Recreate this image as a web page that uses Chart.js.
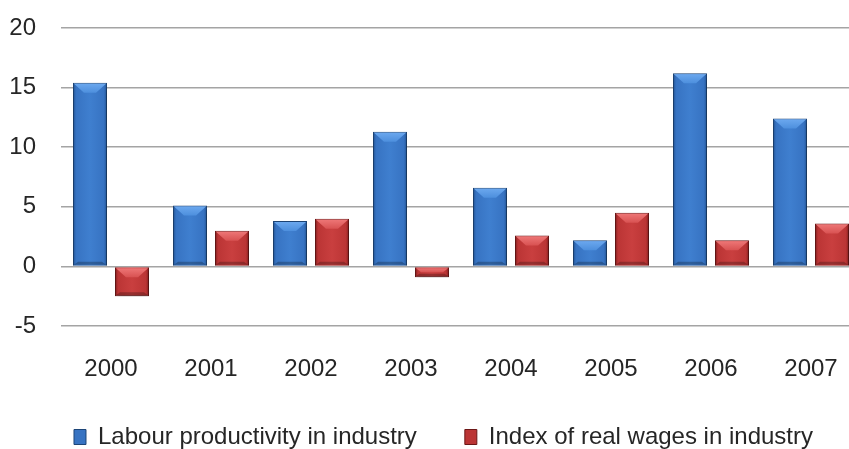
<!DOCTYPE html>
<html>
<head>
<meta charset="utf-8">
<script src="https://cdn.jsdelivr.net/npm/chart.js@4/dist/chart.umd.min.js"></script>
<style>
  html, body { margin: 0; padding: 0; background: #fff; overflow: hidden; }
  #wrap { width: 885px; height: 449px; }
</style>
</head>
<body>
<div id="wrap"><canvas id="chart" width="885" height="449"></canvas></div>
<script>
const years = ['2000', '2001', '2002', '2003', '2004', '2005', '2006', '2007'];
const productivity = [15.4, 5.1, 3.8, 11.3, 6.6, 2.2, 16.2, 12.4];
const realWages = [-2.5, 3.0, 4.0, -0.9, 2.6, 4.5, 2.2, 3.6];
const yTicks = [-5, 0, 5, 10, 15, 20];

const FONT = "'Liberation Sans', Arial, sans-serif";
const CAT_PCT = 0.84, BAR_PCT = 0.81;

// colours: edge / centre / bevel highlight / border
const palette = [
    { edge: '#21518f', mid: '#3773c2', light: '#3f7fcf', bevel: '#6eaaf0', bevel2: '#4d8fdd', border: '#1d4577' },
    { edge: '#7e1d1d', mid: '#bb3535', light: '#c93f3f', bevel: '#f07a7a', bevel2: '#d85252', border: '#6c1717' }
];

// horizontal gradient per bar, located from the x scale
function barFill(ctx) {
    const chart = ctx.chart;
    const p = palette[ctx.datasetIndex];
    const xs = chart.scales.x;
    if (!chart.chartArea || !xs || ctx.dataIndex === undefined) return p.mid;
    const cw = xs.width / years.length;
    const slot = cw * CAT_PCT / 2;
    const bw = slot * BAR_PCT;
    const cx = xs.getPixelForValue(ctx.dataIndex) + (ctx.datasetIndex === 0 ? -slot / 2 : slot / 2);
    const g = chart.ctx.createLinearGradient(cx - bw / 2, 0, cx + bw / 2, 0);
    g.addColorStop(0, p.edge);
    g.addColorStop(0.09, p.mid);
    g.addColorStop(0.5, p.light);
    g.addColorStop(0.91, p.mid);
    g.addColorStop(1, p.edge);
    return g;
}

// drop shadow under the bars and a bevel at the top and bottom of each bar
const bevel = {
    id: 'bevel',
    afterLayout(chart) {
        // nudge the legend a little to the right, as in the original
        chart.legend.left += 8;
        chart.legend.right += 8;
    },
    beforeDatasetsDraw(chart) {
        const c = chart.ctx;
        c.save();
        c.shadowColor = 'rgba(0,0,0,0.35)';
        c.shadowBlur = 6;
        c.shadowOffsetX = 1;
        c.shadowOffsetY = 4;
    },
    afterDatasetsDraw(chart) {
        const c = chart.ctx;
        c.restore();
        c.save();
        chart.data.datasets.forEach((ds, di) => {
            const p = palette[di];
            chart.getDatasetMeta(di).data.forEach(bar => {
                const top = Math.min(bar.y, bar.base);
                const bot = Math.max(bar.y, bar.base);
                const l = bar.x - bar.width / 2 + 1, r = bar.x + bar.width / 2 - 1;
                const h = Math.min(10, (bot - top) / 2);
                const g = c.createLinearGradient(0, top, 0, top + h);
                g.addColorStop(0, p.bevel);
                g.addColorStop(1, p.bevel2);
                c.fillStyle = g;
                c.beginPath();
                c.moveTo(l, top + 1);
                c.lineTo(r, top + 1);
                c.lineTo(r - h, top + h);
                c.lineTo(l + h, top + h);
                c.closePath();
                c.fill();
                const hb = Math.min(4, (bot - top) / 3);
                c.fillStyle = 'rgba(0,0,0,0.25)';
                c.beginPath();
                c.moveTo(l, bot - 1);
                c.lineTo(r, bot - 1);
                c.lineTo(r - hb, bot - hb);
                c.lineTo(l + hb, bot - hb);
                c.closePath();
                c.fill();
            });
        });
        c.restore();
    }
};

new Chart(document.getElementById('chart').getContext('2d'), {
    type: 'bar',
    data: {
        labels: years,
        datasets: [{
            label: 'Labour productivity in industry',
            data: productivity,
            backgroundColor: barFill,
            borderColor: palette[0].border,
            borderWidth: 1
        }, {
            label: 'Index of real wages in industry',
            data: realWages,
            backgroundColor: barFill,
            borderColor: palette[1].border,
            borderWidth: 1
        }]
    },
    options: {
        responsive: false,
        animation: false,
        categoryPercentage: CAT_PCT,
        barPercentage: BAR_PCT,
        layout: { padding: { left: 10, right: 24, top: 0, bottom: 0 } },
        scales: {
            x: {
                grid: { display: false, drawTicks: false },
                border: { display: false },
                afterFit: axis => { axis.height = 51; },
                ticks: { color: '#262626', padding: 29, font: { family: FONT, size: 24 } }
            },
            y: {
                min: yTicks[0],
                max: yTicks[yTicks.length - 1],
                afterFit: axis => {
                    axis.width = 51;
                    axis.paddingTop = 28;
                    axis.paddingBottom = 10;
                },
                grid: { color: '#a4a4a4', lineWidth: 1.5, drawTicks: false },
                border: { display: false },
                ticks: { stepSize: yTicks[1] - yTicks[0], color: '#262626', padding: 25, font: { family: FONT, size: 24 } }
            }
        },
        plugins: {
            tooltip: { enabled: false },
            legend: {
                position: 'bottom',
                maxHeight: 72,
                labels: {
                    color: '#262626',
                    font: { family: FONT, size: 24 },
                    boxWidth: 12,
                    boxHeight: 15,
                    padding: 48,
                    generateLabels: chart => chart.data.datasets.map((ds, i) => ({
                        text: ds.label,
                        fillStyle: palette[i].mid,
                        strokeStyle: palette[i].border,
                        lineWidth: 1,
                        fontColor: '#262626',
                        datasetIndex: i
                    }))
                }
            }
        }
    },
    plugins: [bevel]
});
</script>
</body>
</html>
